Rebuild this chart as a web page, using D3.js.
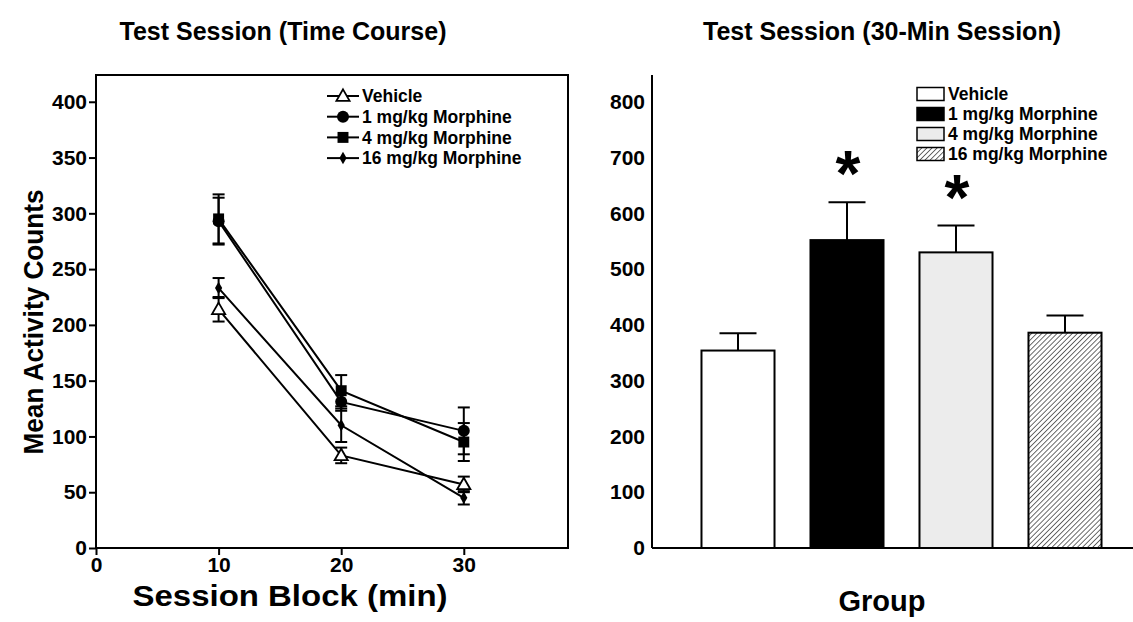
<!DOCTYPE html>
<html><head><meta charset="utf-8">
<script src="https://cdn.jsdelivr.net/npm/d3@7"></script>
<style>
body{margin:0;background:#fff;}
text{font-family:"Liberation Sans",Arial,sans-serif;font-weight:bold;fill:#000;}
</style></head>
<body>
<svg id="chart" width="1133" height="622"></svg>
<script>
// ---- Data ----
const blocks = [10, 20, 30];
const seriesNames = ["Vehicle", "1 mg/kg Morphine", "4 mg/kg Morphine", "16 mg/kg Morphine"];
const vehicleMeans = [214, 83, 57];
const vehicleSem = [11, 7, 7];
const morph1Means = [293, 131, 105];
const morph1Sem = [21, 8, 21];
const morph4Means = [295, 141, 95];
const morph4Sem = [22, 14, 17];
const morph16Means = [233, 110, 45];
const morph16Sem = [9, 15, 6];
const leftYTicks = [0, 50, 100, 150, 200, 250, 300, 350, 400];
const leftXTicks = [0, 10, 20, 30];

const groups = ["Vehicle", "1 mg/kg Morphine", "4 mg/kg Morphine", "16 mg/kg Morphine"];
const groupMeans = [354, 552, 530, 386];
const groupSem = [31, 68, 48, 31];
const significant = [false, true, true, false];
const rightYTicks = [0, 100, 200, 300, 400, 500, 600, 700, 800];

const svg = d3.select("#chart");

// hatch pattern
const defs = svg.append("defs");
const pat = defs.append("pattern").attr("id","hatch").attr("patternUnits","userSpaceOnUse")
  .attr("width",3.6).attr("height",3.6).attr("patternTransform","rotate(45)");
pat.append("rect").attr("width",3.6).attr("height",3.6).attr("fill","#fff");
pat.append("line").attr("x1",0).attr("y1",0).attr("x2",0).attr("y2",3.6)
  .attr("stroke","#3a3a3a").attr("stroke-width",1.5);

// ================= LEFT PANEL =================
const xL = d3.scaleLinear().domain([0, 38.5]).range([96, 568]);
const yL = d3.scaleLinear().domain([0, 424]).range([548, 75]);

svg.append("text").attr("x",283).attr("y",40).attr("text-anchor","middle")
  .style("font-size","25px").text("Test Session (Time Course)");

// frame
svg.append("rect").attr("x",xL(0)).attr("y",yL(424)).attr("width",xL(38.5)-xL(0))
  .attr("height",yL(0)-yL(424)).attr("fill","none").attr("stroke","#000").attr("stroke-width",2);

const yAxisL = svg.append("g").attr("transform",`translate(${xL(0)},0)`)
  .call(d3.axisLeft(yL).tickValues(leftYTicks).tickSize(7).tickPadding(2).tickFormat(d3.format("d")));
const xAxisL = svg.append("g").attr("transform",`translate(0,${yL(0)})`)
  .call(d3.axisBottom(xL).tickValues(leftXTicks).tickSize(7).tickPadding(2).tickFormat(d3.format("d")));
[yAxisL, xAxisL].forEach(a=>{
  a.select(".domain").remove();
  a.selectAll(".tick line").attr("stroke","#000").attr("stroke-width",2);
  a.selectAll(".tick text").style("font-size","21px").style("font-family","Liberation Sans, Arial, sans-serif").style("font-weight","bold");
});

svg.append("text").attr("transform","translate(43,322) rotate(-90)").attr("text-anchor","middle")
  .style("font-size","27px").attr("textLength",265).attr("lengthAdjust","spacingAndGlyphs").text("Mean Activity Counts");
svg.append("text").attr("x",290).attr("y",606).attr("text-anchor","middle")
  .style("font-size","30px").attr("textLength",315).attr("lengthAdjust","spacingAndGlyphs").text("Session Block (min)");

const series = [
  {name: seriesNames[0], means: vehicleMeans, sem: vehicleSem, sym: "triangle"},
  {name: seriesNames[1], means: morph1Means, sem: morph1Sem, sym: "circle"},
  {name: seriesNames[2], means: morph4Means, sem: morph4Sem, sym: "square"},
  {name: seriesNames[3], means: morph16Means, sem: morph16Sem, sym: "diamond"}
];

function drawMarker(g, sym, x, y){
  if(sym==="triangle"){
    g.append("path").attr("d", d3.symbol(d3.symbolTriangle, 75)()).attr("transform",`translate(${x},${y+1})`)
      .attr("fill","#fff").attr("stroke","#000").attr("stroke-width",1.8);
  } else if(sym==="circle"){
    g.append("circle").attr("cx",x).attr("cy",y).attr("r",6).attr("fill","#000");
  } else if(sym==="square"){
    g.append("path").attr("d", d3.symbol(d3.symbolSquare, 120)()).attr("transform",`translate(${x},${y})`).attr("fill","#000");
  } else {
    g.append("path").attr("d", d3.symbol(d3.symbolDiamond, 45)()).attr("transform",`translate(${x},${y})`).attr("fill","#000");
  }
}

const line = d3.line().x((d,i)=>xL(blocks[i])).y(d=>yL(d));
const plotL = svg.append("g");
series.forEach(s=>{
  s.means.forEach((m,i)=>{
    const x = xL(blocks[i]);
    const e = s.sem[i];
    plotL.append("line").attr("x1",x).attr("x2",x).attr("y1",yL(m+e)).attr("y2",yL(m-e)).attr("stroke","#000").attr("stroke-width",2);
    [m+e, m-e].forEach(v=>{
      plotL.append("line").attr("x1",x-6).attr("x2",x+6).attr("y1",yL(v)).attr("y2",yL(v)).attr("stroke","#000").attr("stroke-width",2);
    });
  });
});
series.forEach(s=>{
  plotL.append("path").datum(s.means).attr("d",line).attr("fill","none").attr("stroke","#000").attr("stroke-width",2);
});
series.forEach(s=>{
  s.means.forEach((m,i)=> drawMarker(plotL, s.sym, xL(blocks[i]), yL(m)));
});

// left legend
const legL = svg.append("g");
series.forEach((s,i)=>{
  const y = 96 + i*20.7;
  legL.append("line").attr("x1",327).attr("x2",359).attr("y1",y).attr("y2",y).attr("stroke","#000").attr("stroke-width",2);
  drawMarker(legL, s.sym, 343, y);
  legL.append("text").attr("x",362).attr("y",y).attr("dy","0.35em").style("font-size","17.5px").text(s.name);
});

// ================= RIGHT PANEL =================
const yR = d3.scaleLinear().domain([0, 848]).range([548, 75]);
const xR = d3.scaleBand().domain(groups).range([652, 1151]).paddingInner(0.33).paddingOuter(0.454);

svg.append("text").attr("x",882).attr("y",40).attr("text-anchor","middle")
  .style("font-size","25px").text("Test Session (30-Min Session)");

const yAxisR = svg.append("g").attr("transform",`translate(652,0)`)
  .call(d3.axisLeft(yR).tickValues(rightYTicks).tickSize(0).tickPadding(7).tickFormat(d3.format("d")));
yAxisR.select(".domain").remove();
yAxisR.selectAll(".tick text").style("font-size","21px").style("font-family","Liberation Sans, Arial, sans-serif").style("font-weight","bold");
svg.append("line").attr("x1",652).attr("x2",652).attr("y1",yR(848)).attr("y2",yR(0)).attr("stroke","#000").attr("stroke-width",2);
svg.append("line").attr("x1",652).attr("x2",1133).attr("y1",yR(0)).attr("y2",yR(0)).attr("stroke","#000").attr("stroke-width",2);

svg.append("text").attr("x",882).attr("y",611).attr("text-anchor","middle")
  .style("font-size","29px").text("Group");

const fills = ["#ffffff", "#000000", "#ececec", "url(#hatch)"];
const barsG = svg.append("g");
groups.forEach((g,i)=>{
  const x = xR(g), w = xR.bandwidth(), cx = x + w/2;
  const top = yR(groupMeans[i]), errTop = yR(groupMeans[i]+groupSem[i]);
  barsG.append("line").attr("x1",cx).attr("x2",cx).attr("y1",top).attr("y2",errTop).attr("stroke","#000").attr("stroke-width",2);
  barsG.append("line").attr("x1",cx-18.5).attr("x2",cx+18.5).attr("y1",errTop).attr("y2",errTop).attr("stroke","#000").attr("stroke-width",2);
  barsG.append("rect").attr("x",x).attr("y",top).attr("width",w).attr("height",yR(0)-top)
    .attr("fill",fills[i]).attr("stroke","#000").attr("stroke-width",2);
  if(significant[i]){
    barsG.append("text").attr("x",cx+1).attr("y",errTop-6).attr("text-anchor","middle")
      .style("font-size","64px").text("*");
  }
});

// right legend
const legR = svg.append("g");
groups.forEach((g,i)=>{
  const y = 94 + i*20;
  legR.append("rect").attr("x",917).attr("y",y-6.5).attr("width",27).attr("height",13)
    .attr("fill",fills[i]).attr("stroke","#000").attr("stroke-width",1.5);
  legR.append("text").attr("x",948).attr("y",y).attr("dy","0.35em").style("font-size","17.5px").text(g);
});
</script>
</body></html>
